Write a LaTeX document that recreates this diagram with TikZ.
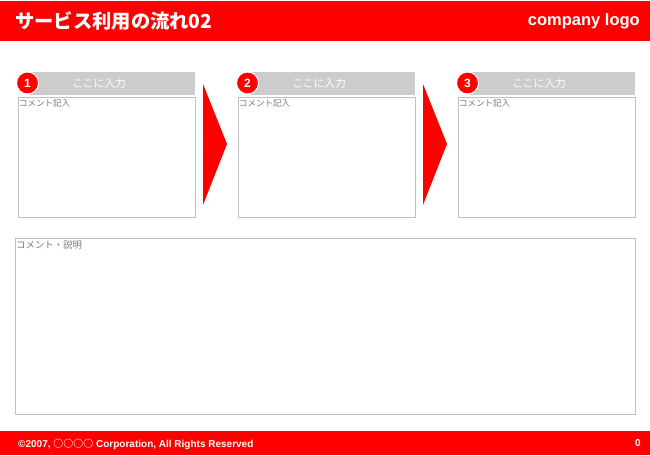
\documentclass[tikz,border=0pt]{standalone}
\usepackage{fontspec}
\setmainfont{Liberation Sans}
\newfontfamily\jp{Noto Sans CJK JP}
\definecolor{hdr}{HTML}{FF0000}
\definecolor{hgray}{HTML}{CCCCCC}
\definecolor{bgray}{HTML}{C0C0C0}
\definecolor{tgray}{HTML}{7A7A7A}
\tikzset{
  band/.style={fill=hdr, draw=none},
  cbox/.style={draw=bgray, line width=1pt, fill=white},
  numc/.style={circle, fill=hdr, draw=white, line width=1pt, minimum size=22pt, inner sep=0pt, text=white, font=\bfseries\fontsize{12}{12}\selectfont},
  headtxt/.style={text=white, font=\jp\fontsize{10.8}{11}\selectfont},
  cmt/.style={text=tgray, anchor=north west, inner sep=1pt, font=\jp\fontsize{8.5}{9}\selectfont},
  flowarrow/.style={fill=hdr, draw=none}
}
\begin{document}
\begin{tikzpicture}[x=1pt,y=-1pt]
\useasboundingbox (0,0) rectangle (650,455);
\fill[white] (0,0) rectangle (650,455);
% header band
\fill[band] (0,1) rectangle (650,41);
\node[anchor=west, text=white, inner sep=0pt, font=\jp\bfseries\fontsize{19.3}{19}\selectfont] (title) at (15,21) {サービス利用の流れ02};
\node[anchor=east, text=white, inner sep=0pt, font=\bfseries\fontsize{16.5}{16}\selectfont] (logo) at (640,21) {company logo};
% footer band
\fill[band] (0,431) rectangle (650,455);
\node[anchor=west, text=white, inner sep=0pt, font=\bfseries\fontsize{10}{10}\selectfont] (copy) at (18,444) {©2007, {\jp\bfseries ○○○○} Corporation, All Rights Reserved};
\node[anchor=east, text=white, inner sep=0pt, font=\bfseries\fontsize{10}{10}\selectfont] (page) at (641,443) {0};
% steps
\foreach \n/\x in {1/18, 2/238, 3/458}{
  \fill[hgray] (\x+12,72) rectangle (\x+177,95);
  \node[headtxt] (h\n) at (\x+81,83.5) {ここに入力};
  \draw[cbox] (\x,97.5) rectangle (\x+177,217);
  \node[cmt] (c\n) at (\x,98) {コメント記入};
  \node[numc] (n\n) at (\x+9.5,83) {\n};
}
% arrows
\coordinate (a1t) at (203,84); \coordinate (a1p) at (227,144); \coordinate (a1b) at (203,205);
\fill[flowarrow] (a1t) -- (a1p) -- (a1b) -- cycle;
\coordinate (a2t) at (423,84); \coordinate (a2p) at (447,144); \coordinate (a2b) at (423,205);
\fill[flowarrow] (a2t) -- (a2p) -- (a2b) -- cycle;
% big comment box
\draw[cbox] (15,238) rectangle (635,414);
\node[cmt, font=\jp\fontsize{9.4}{10}\selectfont] (desc) at (15,239) {コメント・説明};
\end{tikzpicture}
\end{document}
